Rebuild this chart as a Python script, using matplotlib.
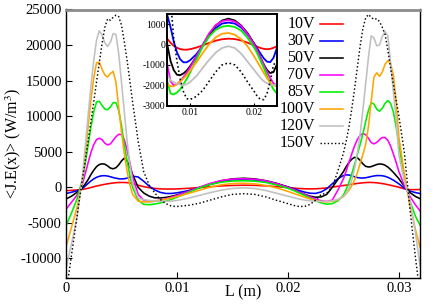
"""Time-averaged power deposition <J.E(x)> along the gap for several voltages."""

import matplotlib
matplotlib.use("Agg")
import matplotlib.pyplot as plt

W, H = 436, 305

# position along the gap (m)
L_M = [
    0.0, 0.0005, 0.001, 0.0015, 0.00175, 0.002, 0.00225, 0.0025, 0.00275, 0.003,
    0.00325, 0.0035, 0.00375, 0.004, 0.00425, 0.0045, 0.00475, 0.005, 0.00525, 0.0055,
    0.00575, 0.006, 0.0065, 0.007, 0.0075, 0.008, 0.0085, 0.009, 0.0095, 0.010,
    0.011, 0.012, 0.013, 0.014, 0.015, 0.016, 0.017, 0.018, 0.019, 0.020,
    0.0205, 0.021, 0.0215, 0.022, 0.0225, 0.023, 0.0235, 0.024, 0.0245, 0.025,
    0.02525, 0.0255, 0.02575, 0.026, 0.02625, 0.0265, 0.02675, 0.027, 0.02725, 0.0275,
    0.02775, 0.028, 0.02825, 0.0285, 0.02875, 0.029, 0.02925, 0.0295, 0.02975, 0.030,
    0.0305, 0.031, 0.0315, 0.0319,
]

JE_10V = [
    -480, -430, -380, -300, -220, -130, -30, 70, 170, 260,
    340, 420, 490, 550, 600, 640, 670, 680, 670, 650,
    610, 500, 280, 90, -60, -160, -220, -250, -250, -230,
    -150, -40, 80, 190, 260, 290, 270, 200, 90, -40,
    -110, -170, -210, -230, -210, -160, -90, 20, 140, 250,
    300, 360, 420, 480, 540, 590, 630, 660, 680, 680,
    660, 630, 580, 520, 450, 370, 280, 190, 100, 0,
    -220, -330, -330, -320,
]
JE_30V = [
    -880, -700, -500, -150, 200, 560, 900, 1180, 1400, 1540,
    1620, 1630, 1580, 1480, 1370, 1270, 1200, 1170, 1200, 1280,
    1420, 1560, 1450, 850, 150, -380, -720, -870, -870, -780,
    -480, -60, 420, 800, 1030, 1080, 1030, 830, 480, 50,
    -200, -450, -680, -840, -860, -650, -200, 500, 1200, 1650,
    1750, 1720, 1620, 1480, 1370, 1310, 1300, 1340, 1420, 1510,
    1590, 1640, 1650, 1620, 1540, 1400, 1220, 1000, 750, 480,
    -150, -530, -750, -880,
]
JE_50V = [
    -1650, -1250, -700, 0, 500, 1100, 1800, 2400, 2900, 3200,
    3300, 3250, 3000, 2700, 2600, 2750, 3150, 3700, 4100, 3700,
    2900, 1800, 0, -800, -1250, -1480, -1500, -1420, -1280, -1080,
    -600, -50, 480, 920, 1180, 1270, 1180, 930, 550, 30,
    -300, -650, -980, -1250, -1400, -1350, -1000, 0, 1100, 2200,
    2900, 3500, 3950, 4200, 4150, 3800, 3300, 2950, 2850, 2900,
    3050, 3200, 3280, 3250, 3100, 2850, 2500, 2100, 1650, 1200,
    100, -750, -1300, -1600,
]
JE_70V = [
    -3100, -2100, -1100, 600, 2000, 3500, 4900, 6000, 6700, 6900,
    6700, 6200, 5950, 6100, 6600, 7100, 7450, 7400, 6700, 5300,
    3500, 1500, -1000, -1800, -2000, -1950, -1800, -1600, -1400, -1150,
    -600, 0, 550, 950, 1150, 1200, 1130, 900, 500, 0,
    -300, -650, -1000, -1350, -1650, -1900, -2000, -1800, -400, 1200,
    2300, 3500, 4700, 5800, 6700, 7300, 7550, 7400, 6900, 6300,
    6100, 6300, 6700, 7000, 7000, 6600, 5800, 4700, 3500, 2200,
    200, -1300, -2500, -3300,
]
JE_85V = [
    -5400, -3600, -1600, 1200, 3500, 6000, 8500, 10600, 12000, 12100,
    11500, 11000, 10900, 11300, 11900, 11900, 10800, 8700, 6000, 3800,
    1700, 0, -1800, -2400, -2450, -2350, -2200, -1950, -1700, -1400,
    -750, -100, 400, 720, 880, 920, 860, 680, 320, -150,
    -450, -800, -1150, -1550, -1900, -2200, -2380, -2300, -1900, -1100,
    -300, 700, 1900, 3200, 4600, 6000, 7500, 9200, 10800, 11900,
    11700, 11000, 10700, 11100, 11800, 12200, 11800, 10600, 8500, 6000,
    1200, -2000, -4100, -5300,
]
JE_100V = [
    -8400, -5600, -2800, 1200, 4800, 8600, 12300, 15400, 17500, 17600,
    16600, 15800, 15500, 16000, 16300, 14800, 11200, 7800, 4800, 2300,
    400, -1000, -1950, -2050, -2050, -1950, -1820, -1670, -1500, -1300,
    -880, -420, 20, 350, 530, 570, 480, 260, -100, -580,
    -850, -1120, -1400, -1650, -1860, -2000, -2050, -1950, -1750, -1300,
    -900, -400, 200, 1000, 2000, 3300, 4600, 6000, 8500, 12000,
    15500, 16100, 15600, 16200, 17300, 17800, 17400, 15800, 12000, 7000,
    1800, -2600, -6000, -8400,
]
JE_120V = [
    -11400, -7900, -4200, 1800, 6000, 10200, 14300, 17800, 20700, 22000,
    21400, 20300, 19800, 20400, 21600, 21500, 18800, 14800, 10700, 6600,
    3200, 600, -1500, -1750, -1850, -1920, -1960, -1980, -1950, -1850,
    -1550, -1150, -750, -400, -170, -80, -170, -450, -850, -1250,
    -1450, -1650, -1800, -1900, -1960, -1990, -1980, -1900, -1700, -1300,
    -800, -100, 1000, 2600, 4700, 7400, 10800, 14500, 18200, 21300,
    21000, 19900, 20000, 21200, 21900, 21300, 17500, 13500, 9500, 4500,
    800, -1700, -6500, -11000,
]
JE_150V = [
    -15000, -9500, -4000, 1400, 3900, 6600, 9300, 12000, 14800, 17500,
    20200, 22500, 23700, 23500, 23900, 24200, 24000, 22800, 20500, 17900,
    15000, 12000, 6500, 2200, 300, -800, -1700, -2300, -2650, -2700,
    -2550, -2250, -1800, -1350, -1000, -900, -1000, -1350, -1850, -2300,
    -2550, -2700, -2700, -2400, -1800, -1000, -800, 0, 2300, 4800,
    6500, 8500, 11000, 13800, 16800, 19800, 22300, 23800, 24300, 23900,
    23600, 23700, 23300, 22500, 21500, 19300, 16800, 14500, 12200, 10000,
    4800, -3200, -10000, -15000,
]

LABELS = ["10V", "30V", "50V", "70V", "85V", "100V", "120V", "150V"]
SERIES = [JE_10V, JE_30V, JE_50V, JE_70V, JE_85V, JE_100V, JE_120V, JE_150V]
COLORS = ["#ff0000", "#0000ff", "#000000", "#ff00ff", "#00ee00", "#ffa500", "#c0c0c0", "#000000"]
STYLES = ["-"] * 7 + [(0, (1.0, 1.6))]

MAIN_XTICKS = [0.0, 0.01, 0.02, 0.03]
MAIN_XLABELS = ["0", "0.01", "0.02", "0.03"]
MAIN_YTICKS = [-10000, -5000, 0, 5000, 10000, 15000, 20000, 25000]
INSET_XTICKS = [0.01, 0.02]
INSET_YTICKS = [-3000, -2000, -1000, 0, 1000]


def px_box(left, top, right, bottom):
    return [left / W, 1 - bottom / H, (right - left) / W, (bottom - top) / H]


def draw_curves(ax, lw):
    for vals, color, style in zip(SERIES, COLORS, STYLES):
        ax.plot(L_M, vals, color=color, linestyle=style,
                linewidth=lw if style == "-" else lw * 0.9)


def main():
    plt.rcParams.update({
        "font.family": "Liberation Serif",
        "font.size": 10,
        "mathtext.fontset": "stix",
    })
    fig = plt.figure(figsize=(W / 100, H / 100), dpi=100)

    ax = fig.add_axes(px_box(66, 9.5, 420, 278.3))
    draw_curves(ax, 1.15)
    ax.set_xlim(0, 0.0319)
    ax.set_ylim(-12800, 25000)
    ax.set_xticks(MAIN_XTICKS, MAIN_XLABELS)
    ax.set_yticks(MAIN_YTICKS, [str(v) for v in MAIN_YTICKS])
    ax.tick_params(direction="in", length=4, width=0.8, labelsize=10.5, pad=3)
    for side in ("left", "right", "bottom"):
        ax.spines[side].set_linewidth(1.0)
    ax.spines["top"].set_color("#8c8c8c")
    ax.spines["top"].set_linewidth(2.0)

    ax.set_xlabel("L (m)", fontsize=11.5)
    ax.xaxis.set_label_coords(0.5, -0.054)
    ax.xaxis.label.set_va("center")
    ax.set_ylabel(r"<J.E(x)> (W/m$^3$)", fontsize=11.5)
    ax.yaxis.set_label_coords(-0.15, 0.5)
    ax.yaxis.label.set_va("center")

    # key, gnuplot style: right-justified text then line sample
    for i, (label, color, style) in enumerate(zip(LABELS, COLORS, STYLES)):
        y = 0.945 - i * 0.0629
        ax.text(0.703, y, label, transform=ax.transAxes, ha="right", va="center",
                fontsize=11.5)
        ax.plot([0.7175, 0.7825], [y, y], transform=ax.transAxes, color=color,
                linestyle=style, linewidth=1.15 if style == "-" else 1.0)

    ins = fig.add_axes(px_box(167.3, 14, 276.7, 105.7))
    draw_curves(ins, 1.3)
    ins.set_xlim(0.0065, 0.0235)
    ins.set_ylim(-3000, 1500)
    ins.set_xticks(INSET_XTICKS, ["0.01", "0.02"])
    ins.set_yticks(INSET_YTICKS, [str(v) for v in INSET_YTICKS])
    ins.tick_params(direction="in", length=2.5, width=0.8, labelsize=7, pad=1.5)
    for side in ins.spines.values():
        side.set_linewidth(1.4)

    fig.savefig("out.png", dpi=100)
    plt.close(fig)


if __name__ == "__main__":
    main()
